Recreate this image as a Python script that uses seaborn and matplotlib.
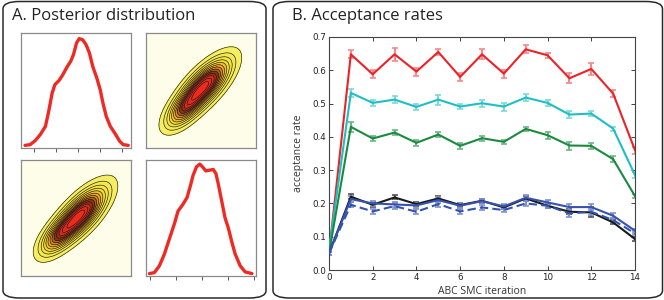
import numpy as np
import pandas as pd
import matplotlib
matplotlib.use("Agg")
import matplotlib.pyplot as plt
import seaborn as sns
from matplotlib.patches import FancyBboxPatch
from matplotlib.colors import LinearSegmentedColormap

# ---------------- data: panel B ----------------
iterations = list(range(15))
rate_red = [0.050, 0.648, 0.588, 0.648, 0.596, 0.655, 0.580, 0.648, 0.590, 0.663, 0.645, 0.576, 0.604, 0.530, 0.360]
err_red = [0.005, 0.012, 0.012, 0.020, 0.012, 0.010, 0.012, 0.015, 0.012, 0.012, 0.008, 0.015, 0.018, 0.010, 0.010]
rate_cyan = [0.060, 0.532, 0.502, 0.512, 0.490, 0.512, 0.491, 0.501, 0.491, 0.518, 0.502, 0.467, 0.470, 0.425, 0.285]
err_cyan = [0.005, 0.012, 0.008, 0.010, 0.010, 0.015, 0.008, 0.010, 0.012, 0.010, 0.008, 0.010, 0.008, 0.006, 0.008]
rate_green = [0.050, 0.430, 0.395, 0.413, 0.382, 0.407, 0.373, 0.396, 0.385, 0.424, 0.405, 0.374, 0.373, 0.333, 0.222]
err_green = [0.005, 0.014, 0.007, 0.008, 0.008, 0.007, 0.010, 0.008, 0.006, 0.005, 0.010, 0.012, 0.008, 0.010, 0.005]
rate_black = [0.050, 0.220, 0.196, 0.218, 0.198, 0.215, 0.195, 0.208, 0.188, 0.215, 0.193, 0.175, 0.173, 0.143, 0.093]
err_black = [0.005, 0.007, 0.007, 0.006, 0.006, 0.006, 0.006, 0.006, 0.006, 0.007, 0.006, 0.008, 0.015, 0.006, 0.005]
rate_blue = [0.050, 0.213, 0.200, 0.197, 0.194, 0.210, 0.193, 0.207, 0.191, 0.217, 0.203, 0.189, 0.189, 0.163, 0.118]
err_blue = [0.005, 0.008, 0.008, 0.008, 0.007, 0.008, 0.007, 0.007, 0.007, 0.008, 0.006, 0.010, 0.010, 0.007, 0.006]
rate_blue_dash = [0.050, 0.196, 0.176, 0.192, 0.175, 0.198, 0.176, 0.188, 0.180, 0.200, 0.193, 0.170, 0.175, 0.150, 0.110]
err_blue_dash = [0.005, 0.008, 0.008, 0.008, 0.007, 0.008, 0.007, 0.007, 0.007, 0.008, 0.006, 0.010, 0.010, 0.007, 0.006]

series_names = ["red", "cyan", "green", "black", "blue", "blue_dash"]
series_rates = [rate_red, rate_cyan, rate_green, rate_black, rate_blue, rate_blue_dash]
series_errs = [err_red, err_cyan, err_green, err_black, err_blue, err_blue_dash]
series_colors = ["#ec2227", "#1ebfc4", "#1a8a3e", "#1a1a1a", "#3552b0", "#3552b0"]
series_err_colors = ["#f28a8e", "#7ed8db", "#6fb488", "#555555", "#7f92cc", "#7f92cc"]
series_dashed = [False, False, False, False, False, True]

x_ticks_b = [0, 2, 4, 6, 8, 10, 12, 14]
y_ticks_b = [0.0, 0.1, 0.2, 0.3, 0.4, 0.5, 0.6, 0.7]

# ---------------- data: panel A marginal densities ----------------
dens1_x = [0.037, 0.083, 0.129, 0.175, 0.222, 0.252, 0.283, 0.308, 0.345, 0.375, 0.422, 0.452,
           0.477, 0.505, 0.529, 0.560, 0.591, 0.622, 0.652, 0.689, 0.720, 0.745, 0.775, 0.812,
           0.852, 0.898, 0.929, 0.975]
dens1_y = [0.023, 0.029, 0.064, 0.116, 0.188, 0.319, 0.478, 0.551, 0.586, 0.629, 0.710, 0.754,
           0.812, 0.913, 0.951, 0.942, 0.899, 0.826, 0.710, 0.609, 0.507, 0.391, 0.275, 0.188,
           0.130, 0.058, 0.029, 0.023]
dens2_x = [0.031, 0.076, 0.122, 0.168, 0.214, 0.260, 0.291, 0.336, 0.373, 0.404, 0.428, 0.459,
           0.489, 0.514, 0.544, 0.575, 0.612, 0.636, 0.657, 0.688, 0.719, 0.749, 0.780, 0.810,
           0.856, 0.902, 0.963]
dens2_y = [0.021, 0.029, 0.088, 0.191, 0.324, 0.456, 0.559, 0.618, 0.676, 0.779, 0.868, 0.941,
           0.965, 0.941, 0.906, 0.912, 0.918, 0.882, 0.794, 0.647, 0.500, 0.412, 0.294, 0.191,
           0.088, 0.035, 0.021]
ticks_dens1 = [0.114, 0.314, 0.514, 0.714, 0.914]
ticks_dens2 = [0.037, 0.269, 0.505, 0.749, 0.979]

# joint posterior, described as two correlated components
# (centre x, centre y, spread, correlation, weight)
joint_components = [
    (0.53, 0.54, 0.145, 0.72, 1.00),
    (0.34, 0.33, 0.105, 0.62, 0.45),
]

# ---------------- style ----------------
sns.set_style("white")
plt.rcParams["font.family"] = ["DejaVu Sans"]

fig = plt.figure(figsize=(6.64, 3.0), dpi=100)
W, H = 664.0, 300.0


def fig_rect(x0, y0, x1, y1):
    return [x0 / W, 1 - y1 / H, (x1 - x0) / W, (y1 - y0) / H]


# rounded panel boxes
for (x0, y0, x1, y1) in [(3, 1.5, 266, 298), (273, 1.5, 662.5, 298)]:
    box = FancyBboxPatch((x0 / W, 1 - y1 / H), (x1 - x0) / W, (y1 - y0) / H,
                         boxstyle="round,pad=0,rounding_size=0.025",
                         transform=fig.transFigure, facecolor="none",
                         edgecolor="#2a2a2a", linewidth=1.1, zorder=0)
    fig.patches.append(box)

title_font = ["Open Sans", "DejaVu Sans"]
fig.text(12 / W, 1 - 16 / H, "A. Posterior distribution", fontsize=12,
         family=title_font, va="center", ha="left", color="#222222")
fig.text(292 / W, 1 - 16 / H, "B. Acceptance rates", fontsize=12,
         family=title_font, va="center", ha="left", color="#222222")

frame_col = "#8a8a8a"


def style_small(ax):
    for s in ax.spines.values():
        s.set_color(frame_col)
        s.set_linewidth(0.9)
        s.set_visible(True)
    ax.set_xlim(0, 1)
    ax.set_ylim(0, 1)
    ax.set_xlabel("")
    ax.set_ylabel("")


# density panels
ax_tl = fig.add_axes(fig_rect(21, 33, 131, 148))
sns.lineplot(x=dens1_x, y=dens1_y, ax=ax_tl, color="#ee2a24", linewidth=2.4, sort=False)
style_small(ax_tl)
ax_tl.set_xticks(ticks_dens1)
ax_tl.set_xticklabels([])
ax_tl.set_yticks([])
ax_tl.tick_params(axis="x", direction="out", length=3, color="#555555", bottom=True, width=0.7)

ax_br = fig.add_axes(fig_rect(146, 160, 256, 276))
sns.lineplot(x=dens2_x, y=dens2_y, ax=ax_br, color="#ee2a24", linewidth=2.4, sort=False)
style_small(ax_br)
ax_br.set_xticks(ticks_dens2)
ax_br.set_xticklabels([])
ax_br.set_yticks([])
ax_br.tick_params(axis="x", direction="out", length=3, color="#555555", bottom=True, width=0.7)

# joint density panels
gx = np.linspace(0, 1, 160)
GX, GY = np.meshgrid(gx, gx)
Z = np.zeros_like(GX)
for (mx, my, s, rho, w) in joint_components:
    dx = (GX - mx) / s
    dy = (GY - my) / s
    q = (dx * dx - 2 * rho * dx * dy + dy * dy) / (1 - rho * rho)
    Z += w * np.exp(-0.5 * q)
Z /= Z.max()

cmap = LinearSegmentedColormap.from_list(
    "post", [(0.0, "#f6ef6a"), (0.25, "#f2e030"), (0.45, "#f0a020"), (0.6, "#a0501a"),
             (0.68, "#6a2a10"), (0.78, "#d02a18"), (1.0, "#f82a1c")])
levels = np.linspace(0.06, 1.0, 14)

for rect, Zp in [(fig_rect(146, 33, 256, 148), Z), (fig_rect(21, 160, 131, 276), Z.T)]:
    ax = fig.add_axes(rect)
    ax.set_facecolor("#fefde9")
    ax.contourf(GX, GY, Zp, levels=list(levels) + [1.01], cmap=cmap)
    ax.contour(GX, GY, Zp, levels=levels, colors="#1a1a1a", linewidths=0.45)
    style_small(ax)
    ax.set_xticks([])
    ax.set_yticks([])

# ---------------- panel B ----------------
axb = fig.add_axes(fig_rect(329, 37, 635, 270))
rows = []
for name, rates in zip(series_names, series_rates):
    for it, r in zip(iterations, rates):
        rows.append({"iteration": it, "rate": r, "series": name})
df = pd.DataFrame(rows)

for name, errs, ecol in zip(series_names, series_errs, series_err_colors):
    rates = series_rates[series_names.index(name)]
    axb.errorbar(iterations, rates, yerr=errs, fmt="none", ecolor=ecol,
                 elinewidth=1.6, capsize=2.2, capthick=1.2, zorder=2)

sns.lineplot(data=df, x="iteration", y="rate", hue="series", style="series",
             hue_order=series_names, style_order=series_names,
             palette=dict(zip(series_names, series_colors)),
             dashes={n: ((4, 2) if d else "") for n, d in zip(series_names, series_dashed)},
             linewidth=1.5, ax=axb, legend=False, zorder=3)

axb.set_xlim(0, 14)
axb.set_ylim(0, 0.7)
axb.set_xticks(x_ticks_b)
axb.set_yticks(y_ticks_b)
axb.set_yticklabels([f"{v:.1f}" for v in y_ticks_b])
axb.tick_params(direction="in", length=3, width=0.6, labelsize=6.3,
                top=True, right=True, bottom=True, left=True, colors="#222222", pad=2)
for s in axb.spines.values():
    s.set_visible(True)
    s.set_color("#444444")
    s.set_linewidth(0.8)
axb.set_xlabel("ABC SMC iteration", fontsize=7.5, family=title_font, color="#333333", labelpad=3)
axb.set_ylabel("acceptance rate", fontsize=7.5, family=title_font, color="#333333", labelpad=6)

fig.savefig("out.png", dpi=100)
